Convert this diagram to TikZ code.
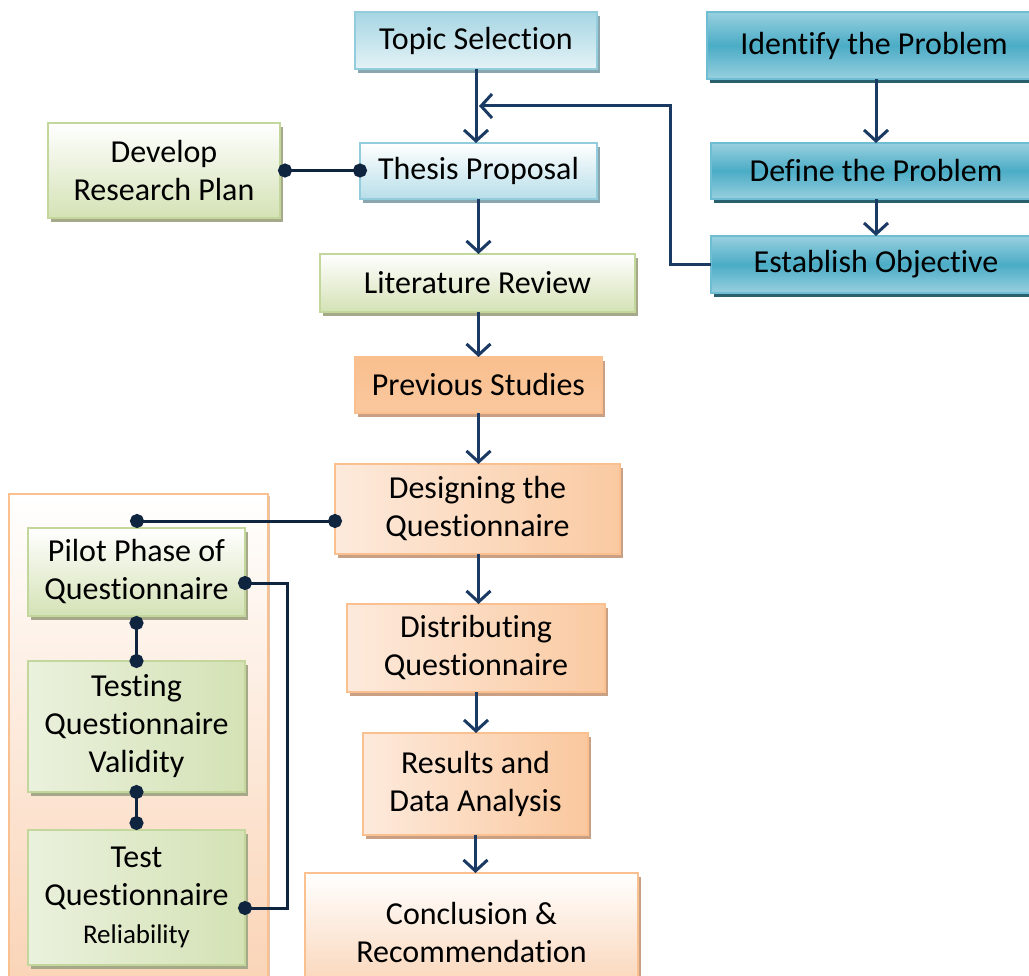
\documentclass[tikz,border=0pt]{standalone}
\usepackage{fontspec}
\setmainfont{Carlito}[Ligatures={NoCommon}]
\usetikzlibrary{arrows.meta,shadows}
\definecolor{arrc}{HTML}{1B3A63}
\definecolor{dotcol}{HTML}{0F243E}
\definecolor{lbluebd}{HTML}{93CDDD}
\definecolor{lblueA}{HTML}{A6D6E3}
\definecolor{lblueB}{HTML}{E4F2F6}
\definecolor{lblueshd}{HTML}{8AA7B0}
\definecolor{tealbd}{HTML}{6FBDD2}
\definecolor{tealA}{HTML}{98D0DF}
\definecolor{tealB}{HTML}{4BACC6}
\definecolor{tealshd}{HTML}{2A5F6E}
\definecolor{greenbd}{HTML}{C3D69B}
\definecolor{greenA}{HTML}{D4E2B5}
\definecolor{greenB}{HTML}{EAF1DD}
\definecolor{greenshd}{HTML}{A6A88A}
\definecolor{orangebd}{HTML}{FAC090}
\definecolor{orangeA}{HTML}{F9BF8E}
\definecolor{orangeB}{HTML}{FDEADC}
\definecolor{orangeshd}{HTML}{C9A084}
\definecolor{peach}{HTML}{FAD3B5}
\begin{document}
\begin{tikzpicture}[x=1pt,y=-1pt,
  base/.style={inner sep=0pt, outer sep=0pt, anchor=north west, align=center,
    font=\fontsize{32}{38}\selectfont, line width=1.5pt},
  lblue/.style={base, draw=lbluebd,
    drop shadow={shadow xshift=3pt,shadow yshift=-4pt,fill=lblueshd,opacity=1}},
  teal/.style={base, draw=tealbd, top color=tealA, bottom color=tealA, middle color=tealB,
    drop shadow={shadow xshift=3pt,shadow yshift=-4pt,fill=tealshd,opacity=1}},
  green/.style={base, draw=greenbd,
    drop shadow={shadow xshift=3pt,shadow yshift=-4pt,fill=greenshd,opacity=1}},
  orange/.style={base, draw=orangebd,
    drop shadow={shadow xshift=3pt,shadow yshift=-4pt,fill=orangeshd,opacity=1}},
  arr/.style={draw=arrc, line width=3pt, -{Straight Barb[length=11pt,width=24pt,line width=3pt]}},
  dotc/.style={draw=dotcol, line width=3pt, {Circle[length=14pt,width=14pt]}-{Circle[length=14pt,width=14pt]}}
]
\useasboundingbox (0,0) rectangle (1029,976);

% left panel
\node[base, draw=orangebd, line width=2pt, top color=white, bottom color=peach,
  minimum width=259pt, minimum height=500pt,
  drop shadow={shadow xshift=2pt,shadow yshift=-2pt,fill=orangeshd!60,opacity=1}] (panel) at (9,494) {};

% top column
\node[lblue, top color=lblueA, bottom color=lblueB, minimum width=242pt, minimum height=57pt] (topic) at (355,12) {Topic Selection};
\node[lblue, top color=white, bottom color=lblueA!80, minimum width=237pt, minimum height=56pt] (thesis) at (360,143) {Thesis Proposal};
\node[green, top color=white, bottom color=greenA, minimum width=315pt, minimum height=58pt] (lit) at (320,254) {Literature Review};
\node[green, top color=white, bottom color=greenA, minimum width=232pt, minimum height=95pt] (dev) at (48,123) {Develop\\Research Plan};

% right column
\node[teal, minimum width=334pt, minimum height=67pt] (ident) at (707,12) {Identify the Problem};
\node[teal, minimum width=330pt, minimum height=56pt] (define) at (711,143) {Define the Problem};
\node[teal, minimum width=330pt, minimum height=57pt] (estab) at (711,236) {Establish Objective};

% orange column
\node[orange, top color=orangeA, middle color=orangeB, bottom color=orangeA!80!orangeB, minimum width=247pt, minimum height=56pt] (prev) at (355,357) {Previous Studies};
\node[orange, left color=orangeB, right color=orangeA!75!orangeB, minimum width=285pt, minimum height=90pt] (design) at (335,464) {Designing the\\Questionnaire};
\node[orange, left color=orangeB, right color=orangeA!75!orangeB, minimum width=258pt, minimum height=88pt] (dist) at (347,604) {Distributing\\Questionnaire};
\node[orange, left color=orangeB, right color=orangeA!80!orangeB, minimum width=225pt, minimum height=102pt] (res) at (363,733) {Results and\\Data Analysis};
\node[orange, top color=white, bottom color=peach, minimum width=333pt, minimum height=120pt] (concl) at (305,873) {Conclusion \&\\Recommendation};

% green panel boxes
\node[green, top color=white, bottom color=greenA, minimum width=217pt, minimum height=88pt] (pilot) at (28,528) {Pilot Phase of\\Questionnaire};
\node[green, left color=greenB, right color=greenA, minimum width=217pt, minimum height=131pt] (testing) at (28,661) {Testing\\Questionnaire\\Validity};
\node[green, left color=greenB, right color=greenA, minimum width=217pt, minimum height=135pt] (test) at (28,830) {Test\\Questionnaire\\{\fontsize{27}{34}\selectfont Reliability}};

% arrows down main column
\draw[arr] (topic.south) -- (topic.south |- thesis.north);
\draw[arr] (thesis.south) -- (thesis.south |- lit.north);
\draw[arr] (thesis.south |- lit.south) -- (thesis.south |- prev.north);
\draw[arr] (thesis.south |- prev.south) -- (thesis.south |- design.north);
\draw[arr] (thesis.south |- design.south) -- (thesis.south |- dist.north);
\draw[arr] (dist.south) -- (dist.south |- res.north);
\draw[arr] (res.south) -- (res.south |- concl.north);

% right column arrows
\draw[arr] (ident.south -| define.south) -- (define.north);
\draw[arr] (define.south) -- (estab.north);

% feedback
\coordinate (fb) at (670,106);
\draw[arr] (estab.west) -| (fb) -- ([xshift=3pt]fb -| topic.south);

% dot connectors
\draw[dotc, shorten <=-2pt, shorten >=-7pt] (dev.east) -- (dev.east -| thesis.west);
\coordinate (pj) at (137,521);
\draw[dotc, shorten <=-7pt, shorten >=-7pt] (design.west |- pj) -- (pj);
\draw[dotc, shorten >=-7pt] (pilot.south) -- (testing.north);
\draw[dotc, shorten <=-7pt] (testing.south) -- (test.north);
\coordinate (rb1) at (287,583);
\coordinate (rb2) at (287,908);
\draw[dotc, shorten <=-7pt, shorten >=-7pt] (pilot.east |- rb1) -- (rb1) -- (rb2) -- (test.east |- rb2);
\end{tikzpicture}
\end{document}
